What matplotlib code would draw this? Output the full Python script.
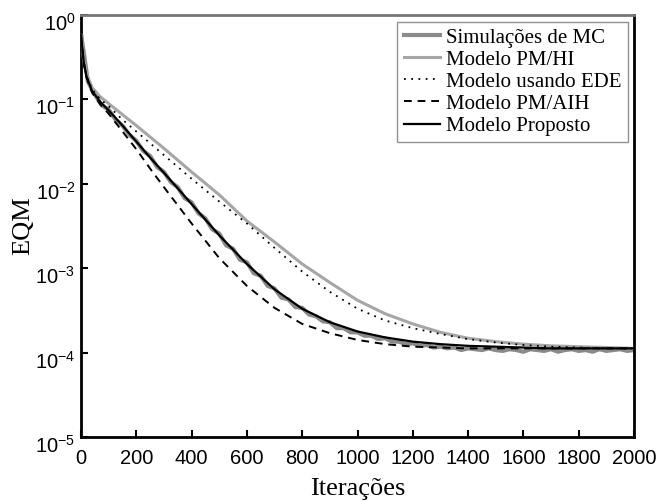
import numpy as np
import matplotlib
matplotlib.use("Agg")
import matplotlib.pyplot as plt
import matplotlib.transforms as mtransforms
from matplotlib.ticker import LogLocator, LogFormatterSciNotation, FixedLocator

plt.rcParams['mathtext.fontset'] = 'custom'
plt.rcParams['mathtext.rm'] = 'Liberation Sans'
plt.rcParams['mathtext.it'] = 'Liberation Sans'
plt.rcParams['mathtext.bf'] = 'Liberation Sans'

# ---- data (log10 of EQM) ----
it_models = [0, 10, 20, 40, 70, 100, 150, 200, 250, 300, 400, 500, 600, 700, 800,
             900, 1000, 1100, 1200, 1300, 1400, 1500, 1600, 1700, 1800, 1900, 2000]

pmhi_log = [-0.24, -0.55, -0.70, -0.86, -0.97, -1.05, -1.18, -1.31, -1.445, -1.58, -1.86,
            -2.13, -2.44, -2.69, -2.95, -3.17, -3.38, -3.54, -3.66, -3.76, -3.83, -3.87,
            -3.90, -3.92, -3.93, -3.94, -3.95]

ede_log = [-0.24, -0.56, -0.72, -0.88, -1.00, -1.08, -1.24, -1.38, -1.52, -1.66, -1.94,
           -2.21, -2.47, -2.76, -3.04, -3.28, -3.48, -3.62, -3.71, -3.78, -3.84, -3.88,
           -3.91, -3.93, -3.94, -3.95, -3.95]

aih_log = [-0.24, -0.57, -0.74, -0.92, -1.06, -1.17, -1.38, -1.59, -1.82, -2.04, -2.47,
           -2.88, -3.21, -3.47, -3.66, -3.77, -3.85, -3.90, -3.93, -3.94, -3.95, -3.95,
           -3.95, -3.95, -3.95, -3.95, -3.95]

prop_log = [-0.24, -0.56, -0.73, -0.90, -1.03, -1.13, -1.31, -1.50, -1.69, -1.87, -2.24,
            -2.61, -2.95, -3.25, -3.48, -3.64, -3.75, -3.82, -3.87, -3.90, -3.92, -3.93,
            -3.94, -3.95, -3.95, -3.95, -3.95]

it_mc = list(range(0, 2001, 25))
mc_log = [-0.22, -0.79, -0.94, -1.07, -1.12, -1.24, -1.31, -1.42, -1.49, -1.61,
          -1.67, -1.80, -1.86, -1.98, -2.04, -2.17, -2.22, -2.35, -2.41, -2.54,
          -2.59, -2.73, -2.77, -2.90, -2.93, -3.06, -3.09, -3.21, -3.24, -3.35,
          -3.37, -3.46, -3.47, -3.55, -3.57, -3.63, -3.64, -3.71, -3.71, -3.76,
          -3.76, -3.80, -3.80, -3.84, -3.83, -3.87, -3.87, -3.90, -3.89, -3.92,
          -3.91, -3.94, -3.93, -3.95, -3.94, -3.97, -3.95, -3.96, -3.97, -3.95,
          -3.97, -3.98, -3.96, -3.97, -3.99, -3.96, -3.97, -3.98, -3.96, -3.99,
          -3.97, -3.96, -3.98, -3.97, -3.99, -3.96, -3.98, -3.97, -3.96, -3.98,
          -3.97]

labels = ["Simulações de MC", "Modelo PM/HI", "Modelo usando EDE",
          "Modelo PM/AIH", "Modelo Proposto"]
xticks = [0, 200, 400, 600, 800, 1000, 1200, 1400, 1600, 1800, 2000]

# ---- figure ----
W, H = 663, 501
fig = plt.figure(figsize=(W / 100, H / 100), dpi=100)
left, right, top, bottom = 81, 634, 15, 437
ax = fig.add_axes([left / W, 1 - bottom / H, (right - left) / W, (bottom - top) / H])

pw = lambda a: np.power(10.0, np.array(a))

ax.plot(it_mc, pw(mc_log), color='#8a8a8a', lw=3.0, label=labels[0], zorder=2)
ax.plot(it_models, pw(pmhi_log), color='#a6a6a6', lw=2.2, label=labels[1], zorder=3)
ax.plot(it_models, pw(ede_log), color='black', lw=1.3, ls=(0, (1, 3)), label=labels[2], zorder=4)
ax.plot(it_models, pw(aih_log), color='black', lw=1.4, ls=(0, (4, 3)), label=labels[3], zorder=4)
ax.plot(it_models, pw(prop_log), color='black', lw=1.6, label=labels[4], zorder=5)

ax.set_yscale('log')
ax.set_ylim(1e-5, 1)
ax.set_xlim(0, 2000)
ax.yaxis.set_major_locator(LogLocator(base=10, numticks=10))
ax.yaxis.set_minor_locator(FixedLocator([]))
ax.yaxis.set_major_formatter(LogFormatterSciNotation())
ax.set_xticks(xticks)
ax.set_xticklabels([str(t) for t in xticks])

for s in ['left', 'bottom', 'right']:
    ax.spines[s].set_linewidth(2.0)
    ax.spines[s].set_color('black')
ax.spines['top'].set_linewidth(2.0)
ax.spines['top'].set_color('#777777')

ax.tick_params(axis='x', which='major', direction='in', length=5, width=1.5,
               top=False, labelsize=14.5, pad=8.5)
ax.tick_params(axis='y', which='major', direction='in', length=5, width=1.5,
               right=False, labelsize=14.5, pad=4)
for lab in ax.get_xticklabels() + ax.get_yticklabels():
    lab.set_fontfamily('Liberation Sans')

fig.canvas.draw()
offset = mtransforms.ScaledTranslation(0, -5 / 72, fig.dpi_scale_trans)
for lab in ax.get_yticklabels():
    lab.set_transform(lab.get_transform() + offset)

ax.set_xlabel('Iterações', fontsize=19, family='Liberation Serif', labelpad=7)
ax.set_ylabel('EQM', fontsize=19, family='Liberation Serif', labelpad=1)

leg = ax.legend(loc='upper right', bbox_to_anchor=(628 / W, 1 - 21.7 / H),
                bbox_transform=fig.transFigure, borderaxespad=0,
                prop={'family': 'Liberation Serif', 'size': 15},
                frameon=True, fancybox=False, edgecolor='#777777',
                handlelength=1.75, handletextpad=0.3, labelspacing=0.12,
                borderpad=0.3)
leg.get_frame().set_linewidth(1.0)

fig.savefig('out.png', dpi=100)
